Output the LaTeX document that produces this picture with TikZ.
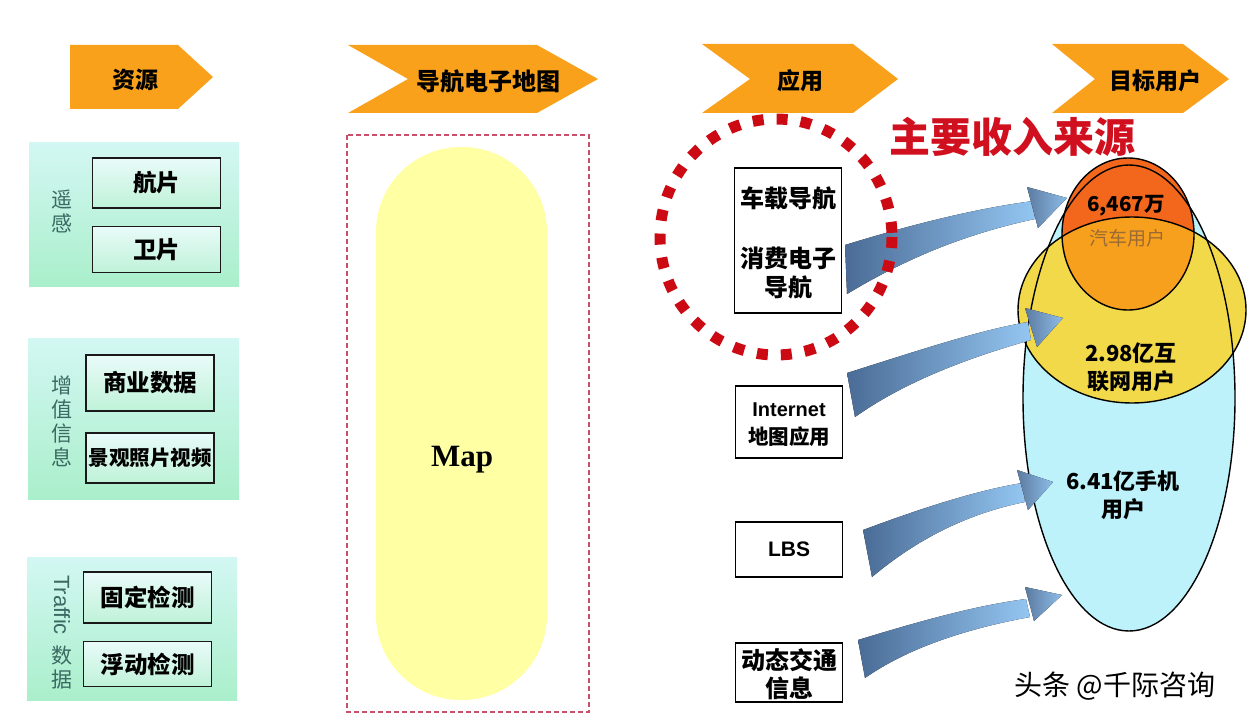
\documentclass[tikz,border=0pt]{standalone}
\usepackage{fontspec}
\setmainfont{Liberation Sans}
\newfontfamily\cjk{Noto Sans CJK SC}
\newfontfamily\serifb{Liberation Serif}
\usetikzlibrary{shapes.geometric}
\definecolor{hdrorange}{HTML}{F9A11B}
\definecolor{grptop}{HTML}{D3F7F3}
\definecolor{grpbot}{HTML}{AAEFCB}
\definecolor{itemtop}{HTML}{E9FBF9}
\definecolor{itembot}{HTML}{BFF2D8}
\definecolor{lbl}{HTML}{3A6A62}
\definecolor{dashred}{HTML}{C8506A}
\definecolor{mapyellow}{HTML}{FFFFA4}
\definecolor{dotred}{HTML}{CC0A14}
\definecolor{titlered}{HTML}{D0101E}
\definecolor{arrdark}{HTML}{4A6C96}
\definecolor{arrlight}{HTML}{94C6F2}
\definecolor{ellblue}{HTML}{BDF2FA}
\definecolor{ellyellow}{HTML}{F2D94A}
\definecolor{ellorange}{HTML}{F2671C}
\definecolor{ellmix}{HTML}{F7A01E}
\definecolor{cartxt}{HTML}{9A6A34}
\begin{document}
\begin{tikzpicture}[x=1pt,y=-1pt,font=\cjk]
\tikzset{
  hdr/.style={fill=hdrorange,draw=none},
  hdrtxt/.style={font=\cjk\bfseries\fontsize{23}{23}\selectfont,text=black},
  grp/.style={top color=grptop,bottom color=grpbot,draw=none},
  itembox/.style={draw=black!90,line width=1.8pt,top color=itemtop,bottom color=itembot,
    minimum width=128pt,inner sep=0pt,font=\cjk\bfseries\fontsize{23.5}{23.5}\selectfont},
  vlbl/.style={text=lbl,font=\cjk\fontsize{21}{24}\selectfont,align=center,inner sep=0pt},
  appbox/.style={draw=black,line width=1.5pt,fill=white,minimum width=107pt,inner sep=0pt},
  apptxt/.style={font=\cjk\bfseries\fontsize{24}{24}\selectfont,inner sep=0pt},
  appen/.style={font=\bfseries\fontsize{20}{20}\selectfont,inner sep=0pt},
  band/.style={left color=arrdark,right color=arrlight,draw=none},
  head/.style={left color=arrdark!90,right color=arrlight!90!arrdark,draw=none},
  elltxt/.style={font=\cjk\bfseries\fontsize{22}{28}\selectfont,align=center,inner sep=0pt},
}
\useasboundingbox (0,0) rectangle (1252,722);
\fill[white] (0,0) rectangle (1252,722);

% ---------- headers ----------
\fill[hdr] (70,45) -- (178,45) -- (213,77) -- (178,109) -- (70,109) -- cycle;
\fill[hdr] (348,45) -- (537,45) -- (598,79) -- (537,113) -- (348,113) -- (408,79) -- cycle;
\fill[hdr] (702,44) -- (853,44) -- (898,79) -- (853,113) -- (702,113) -- (750,79) -- cycle;
\fill[hdr] (1052,44) -- (1183,44) -- (1229,79) -- (1183,113) -- (1052,113) -- (1095,79) -- cycle;
\node[hdrtxt] (h1) at (135,80) {资源};
\node[hdrtxt,font=\cjk\bfseries\fontsize{24}{24}\selectfont] (h2) at (488,81) {导航电子地图};
\node[hdrtxt] (h3) at (800,81) {应用};
\node[hdrtxt] (h4) at (1155,81) {目标用户};

% ---------- left groups ----------
\fill[grp] (29,143) rectangle (239,286);
\fill[grp] (28,338) rectangle (239,499);
\fill[grp] (27,557) rectangle (237,700);
\node[itembox,minimum height=50pt] (r1) at (156.5,183) {航片};
\node[itembox,minimum height=46pt] (r2) at (156.5,249.5) {卫片};
\node[itembox,minimum height=56pt] (r3) at (150,383) {商业数据};
\node[itembox,minimum height=50pt,font=\cjk\bfseries\fontsize{20.5}{20.5}\selectfont] (r4) at (150,458) {景观照片视频};
\node[itembox,minimum height=51pt] (r5) at (147.5,597.5) {固定检测};
\node[itembox,minimum height=45pt] (r6) at (147.5,664) {浮动检测};
\node[vlbl] (l1) at (62,211) {遥\\感};
\node[vlbl] (l2) at (62,421) {增\\值\\信\\息};
\node[vlbl,rotate=-90,font=\fontsize{22}{22}\selectfont] (l3) at (62,605) {Traffic};
\node[vlbl] (l4) at (62,668) {数\\据};

% ---------- map ----------
\draw[dashred,line width=1.5pt,dash pattern=on 5pt off 3pt] (347,135) rectangle (589,712);
\fill[mapyellow,rounded corners=85pt] (376,147) rectangle (547,700);
\node[font=\serifb\bfseries\fontsize{31}{31}\selectfont] (map) at (462,460) {Map};

% ---------- target users ellipses ----------
\fill[ellblue] (1129,398) ellipse [x radius=106,y radius=233];
\fill[ellyellow] (1132,310) ellipse [x radius=114,y radius=93];
\fill[ellorange] (1128,234) ellipse [x radius=66,y radius=76];
\begin{scope}
  \clip (1132,310) ellipse [x radius=114,y radius=93];
  \fill[ellmix] (1128,234) ellipse [x radius=66,y radius=76];
\end{scope}
\draw[black,line width=1.4pt] (1129,398) ellipse [x radius=106,y radius=233];
\draw[black,line width=1.4pt] (1132,310) ellipse [x radius=114,y radius=93];
\draw[black,line width=1.4pt] (1128,234) ellipse [x radius=66,y radius=76];

% ---------- arrows ----------
\fill[band] (845,245) .. controls (920,222) and (980,208) .. (1033,201)
  -- (1035,219) .. controls (960,235) and (900,262) .. (847,294) -- cycle;
\fill[head] (1027,187) -- (1067,198) -- (1038,228) -- cycle;
\fill[band] (847,373) .. controls (920,350) and (980,330) .. (1028,322)
  -- (1031,340) .. controls (960,360) and (900,385) .. (855,417) -- cycle;
\fill[head] (1025,308) -- (1063,318) -- (1037,347) -- cycle;
\fill[band] (863,530) .. controls (930,505) and (980,490) .. (1022,483)
  -- (1025,502) .. controls (960,515) and (910,545) .. (872,577) -- cycle;
\fill[head] (1017,470) -- (1053,482) -- (1028,510) -- cycle;
\fill[band] (858,640) .. controls (930,618) and (980,605) .. (1026,599)
  -- (1030,617) .. controls (960,630) and (905,650) .. (865,678) -- cycle;
\fill[head] (1025,587) -- (1062,595) -- (1034,621) -- cycle;

% ---------- ellipse texts ----------
\node[elltxt,font=\cjk\bfseries\fontsize{20.5}{20.5}\selectfont] (u1) at (1126,206) {6,467万};
\node[elltxt,text=cartxt,font=\cjk\fontsize{19}{20}\selectfont] (u2) at (1127,238) {汽车用户};
\node[elltxt] (u3) at (1131,367) {2.98亿互\\联网用户};
\node[elltxt] (u4) at (1123,495) {6.41亿手机\\用户};

% ---------- applications ----------
\node[appbox,minimum height=145pt] (a1) at (788,240.5) {};
\node[apptxt] (a1t) at (788,198) {车载导航};
\node[apptxt] (a1u) at (788,258) {消费电子};
\node[apptxt] (a1v) at (788,287) {导航};
\node[appbox,minimum height=72pt] (a2) at (789,422) {};
\node[appen] (a2t) at (789,410) {Internet};
\node[apptxt,font=\cjk\bfseries\fontsize{20.5}{20.5}\selectfont] (a2u) at (789,437) {地图应用};
\node[appbox,minimum height=55pt,font=\bfseries\fontsize{21}{21}\selectfont] (a3) at (789,549.5) {LBS};
\node[appbox,minimum height=59pt] (a4) at (789,672.5) {};
\node[apptxt] (a4t) at (789,660) {动态交通};
\node[apptxt] (a4u) at (789,688) {信息};

\draw[dotred,line width=11pt,dash pattern=on 11pt off 13pt] (776,237) ellipse [x radius=116,y radius=118];

\node[text=titlered,font=\cjk\bfseries\fontsize{41}{41}\selectfont,inner sep=0pt] (title) at (1012,137) {主要收入来源};

% ---------- watermark ----------
\node[font=\cjk\fontsize{28}{28}\selectfont,text=black,inner sep=0pt] (wm) at (1115,686) {头条 @千际咨询};
\end{tikzpicture}
\end{document}
